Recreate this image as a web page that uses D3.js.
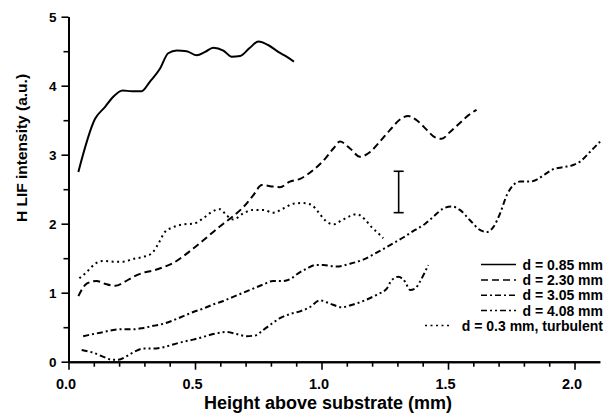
<!DOCTYPE html>
<html><head><meta charset="utf-8">
<script src="https://cdn.jsdelivr.net/npm/d3@7"></script>
<style>
html,body{margin:0;padding:0;background:#fff;}
svg{display:block;}
svg text{font-family:"Liberation Sans",Arial,Helvetica,sans-serif;font-weight:700;fill:#000;}
</style></head>
<body><svg id="c" width="606" height="413"></svg>
<script>
// ---- data ----
const xTicks = [0, 0.5, 1.0, 1.5, 2.0];
const yTicks = [0, 1, 2, 3, 4, 5];
const legendLabels = ["d = 0.85 mm", "d = 2.30 mm", "d = 3.05 mm", "d = 4.08 mm", "d = 0.3 mm, turbulent"];

const x085 = [0.039,0.105,0.144,0.177,0.214,0.250,0.289,0.322,0.362,0.394,0.428,0.467,0.507,0.540,0.572,0.612,0.645,0.678,0.717,0.750,0.789,0.829,0.862,0.891];
const y085 = [2.75,3.52,3.69,3.84,3.93,3.92,3.92,4.06,4.25,4.47,4.51,4.50,4.44,4.49,4.55,4.51,4.42,4.43,4.55,4.64,4.59,4.49,4.42,4.35];

const x230 = [0.039,0.072,0.111,0.144,0.184,0.223,0.256,0.296,0.335,0.375,0.414,0.454,0.493,0.533,0.572,0.612,0.651,0.691,0.730,0.764,0.803,0.836,0.875,0.915,0.968,1.014,1.047,1.073,1.113,1.152,1.192,1.231,1.271,1.310,1.343,1.376,1.416,1.449,1.475,1.508,1.547,1.580,1.613];
const y230 = [0.95,1.13,1.17,1.13,1.10,1.16,1.23,1.29,1.32,1.37,1.43,1.53,1.64,1.76,1.88,2.00,2.11,2.24,2.41,2.56,2.54,2.53,2.61,2.65,2.78,2.94,3.09,3.19,3.09,2.97,3.04,3.19,3.36,3.51,3.56,3.50,3.36,3.25,3.23,3.33,3.46,3.57,3.65];

const x305 = [0.058,0.098,0.138,0.177,0.217,0.256,0.296,0.335,0.375,0.414,0.454,0.493,0.533,0.572,0.612,0.651,0.691,0.730,0.770,0.809,0.849,0.882,0.908,0.942,0.974,1.007,1.060,1.113,1.165,1.218,1.271,1.323,1.370,1.410,1.442,1.481,1.515,1.547,1.587,1.626,1.653,1.679,1.706,1.732,1.758,1.785,1.824,1.851,1.877,1.916,1.956,1.995,2.022,2.061,2.101];
const y305 = [0.37,0.40,0.43,0.46,0.47,0.47,0.49,0.52,0.55,0.60,0.66,0.72,0.77,0.83,0.88,0.94,1.00,1.06,1.12,1.17,1.17,1.21,1.28,1.35,1.40,1.40,1.38,1.42,1.48,1.58,1.69,1.80,1.91,2.00,2.10,2.22,2.25,2.20,2.05,1.91,1.88,1.95,2.15,2.41,2.56,2.61,2.61,2.64,2.70,2.79,2.82,2.85,2.90,3.04,3.19];

const x408 = [0.052,0.098,0.138,0.171,0.197,0.230,0.263,0.296,0.335,0.375,0.414,0.454,0.493,0.533,0.572,0.625,0.665,0.704,0.737,0.770,0.803,0.836,0.875,0.915,0.954,0.994,1.034,1.080,1.126,1.172,1.218,1.258,1.277,1.304,1.330,1.350,1.370,1.389,1.409,1.422];
const y408 = [0.17,0.13,0.07,0.03,0.03,0.08,0.15,0.19,0.19,0.21,0.25,0.29,0.32,0.36,0.40,0.43,0.40,0.37,0.38,0.46,0.55,0.63,0.69,0.73,0.79,0.89,0.84,0.79,0.83,0.89,0.97,1.06,1.18,1.23,1.16,1.04,1.06,1.16,1.30,1.40];

const xTurb = [0.043,0.072,0.105,0.138,0.177,0.217,0.256,0.296,0.329,0.355,0.381,0.414,0.454,0.493,0.533,0.566,0.599,0.625,0.651,0.691,0.730,0.770,0.809,0.849,0.889,0.928,0.961,0.987,1.014,1.047,1.080,1.113,1.139,1.172,1.198,1.225,1.244];
const yTurb = [1.21,1.30,1.42,1.46,1.45,1.45,1.49,1.52,1.57,1.71,1.88,1.95,1.99,2.00,2.08,2.17,2.21,2.12,2.06,2.15,2.20,2.20,2.16,2.22,2.29,2.30,2.27,2.17,2.05,1.99,2.05,2.11,2.14,2.06,1.95,1.86,1.79];

const errX = 1.305, errLow = 2.16, errHigh = 2.76;

// ---- drawing ----
const svg = d3.select("#c");
const x = d3.scaleLinear().domain([0, 2.1]).range([68.5, 599.8]);
const y = d3.scaleLinear().domain([0, 5]).range([361.7, 16.7]);

const series = [
  {xs: x085, ys: y085, dash: null},
  {xs: x230, ys: y230, dash: "7,4"},
  {xs: x305, ys: y305, dash: "6,3,2,3"},
  {xs: x408, ys: y408, dash: "6,3,2,3,2,3"},
  {xs: xTurb, ys: yTurb, dash: "2,3.5"}
];

const line = d3.line().x(d => x(d[0])).y(d => y(d[1])).curve(d3.curveMonotoneX);

series.forEach(s => {
  const pts = s.xs.map((v, i) => [v, s.ys[i]]);
  svg.append("path").datum(pts).attr("d", line)
    .attr("fill", "none").attr("stroke", "#000").attr("stroke-width", 2)
    .attr("stroke-dasharray", s.dash);
});

// error bar
const eb = svg.append("g").attr("stroke", "#000").attr("stroke-width", 1.6);
eb.append("line").attr("x1", x(errX)).attr("x2", x(errX)).attr("y1", y(errLow)).attr("y2", y(errHigh));
eb.append("line").attr("x1", x(errX) - 5).attr("x2", x(errX) + 5).attr("y1", y(errLow)).attr("y2", y(errLow));
eb.append("line").attr("x1", x(errX) - 5).attr("x2", x(errX) + 5).attr("y1", y(errHigh)).attr("y2", y(errHigh));

// axes
const xMinor = d3.range(0, 21).map(i => i / 10).filter(v => Math.abs(v * 2 - Math.round(v * 2)) > 1e-6);
const yMinor = [0.5, 1.5, 2.5, 3.5, 4.5];

const gxm = svg.append("g").attr("transform", `translate(0,${y(0)})`)
  .call(d3.axisBottom(x).tickValues(xMinor).tickSize(5).tickSizeOuter(0).tickFormat(""));
const gx = svg.append("g").attr("transform", `translate(0,${y(0)})`)
  .call(d3.axisBottom(x).tickValues(xTicks).tickSize(8).tickSizeOuter(0).tickFormat(d3.format(".1f")));
const gym = svg.append("g").attr("transform", `translate(${x(0)},0)`)
  .call(d3.axisLeft(y).tickValues(yMinor).tickSize(5).tickSizeOuter(0).tickFormat(""));
const gy = svg.append("g").attr("transform", `translate(${x(0)},0)`)
  .call(d3.axisLeft(y).tickValues(yTicks).tickSize(7).tickSizeOuter(0).tickFormat(d3.format("d")));

[gxm, gx, gym, gy].forEach(g => {
  g.attr("font-family", null).attr("font-size", null);
  g.selectAll("path").attr("stroke", "#000").attr("stroke-width", 2);
  g.selectAll("line").attr("stroke", "#000").attr("stroke-width", 1.6);
});
gx.selectAll("text").attr("font-size", 14.5).attr("font-weight", 700).attr("fill", "#000")
  .attr("dy", null).attr("y", 27).attr("x", -3);
gy.selectAll("text").attr("font-size", 13.5).attr("font-weight", 700).attr("fill", "#000")
  .attr("x", -12).attr("dy", "0.36em");

// axis titles
svg.append("text").attr("x", 328).attr("y", 409).attr("text-anchor", "middle")
  .attr("font-size", 18).attr("font-weight", 700).text("Height above substrate (mm)");
svg.append("text").attr("transform", "translate(27,148) rotate(-90)").attr("text-anchor", "middle")
  .attr("font-size", 15.5).attr("font-weight", 700).text("H LIF intensity (a.u.)");

// legend
const legY = [264.5, 280, 295.3, 310.5, 325.5];
const leg = svg.append("g");
series.forEach((s, i) => {
  const yy = legY[i];
  const x1 = i < 4 ? 481 : 425, x2 = i < 4 ? 516 : 452;
  leg.append("line").attr("x1", x1).attr("x2", x2).attr("y1", yy).attr("y2", yy)
    .attr("stroke", "#000").attr("stroke-width", i < 4 ? 1.6 : 1.4).attr("stroke-dasharray", s.dash);
  leg.append("text").attr("x", 603).attr("y", yy).attr("dy", "0.36em").attr("text-anchor", "end")
    .attr("font-size", 14).attr("font-weight", 700).text(legendLabels[i]);
});
</script>
</body></html>
